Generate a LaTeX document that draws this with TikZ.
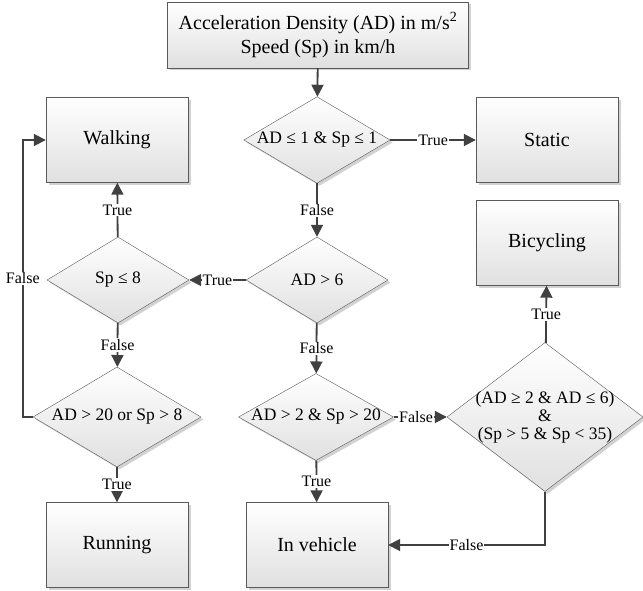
\documentclass[tikz,border=0pt]{standalone}
\usepackage{fontspec}
\setmainfont{Liberation Serif}
\usetikzlibrary{shapes.geometric,arrows.meta,shadows}
\definecolor{linegrey}{RGB}{64,64,64}
\definecolor{edgegrey}{RGB}{90,90,90}
\definecolor{fillgrey}{RGB}{224,224,224}
\definecolor{shadowgrey}{RGB}{210,210,210}

\begin{document}
\begin{tikzpicture}[x=1pt,y=-1pt,
    box/.style={rectangle, draw=edgegrey, top color=white, bottom color=fillgrey,
        minimum width=142pt, minimum height=85pt, inner sep=0pt, align=center,
        font=\fontsize{20}{24}\selectfont,
        drop shadow={shadow xshift=2.5pt, shadow yshift=-2.5pt, fill=shadowgrey, opacity=1}},
    decision/.style={diamond, draw=edgegrey, top color=white, bottom color=fillgrey,
        inner sep=0pt, align=center, font=\fontsize{17.5}{18}\selectfont,
        drop shadow={shadow xshift=2.5pt, shadow yshift=-2.5pt, fill=shadowgrey, opacity=1}},
    flow/.style={draw=linegrey, line width=1.8pt, -{Triangle[length=12pt,width=12pt]}},
    lbl/.style={fill=white, inner sep=1pt, font=\fontsize{16}{18}\selectfont}]
\useasboundingbox (0,0) rectangle (643,591);

% Input
\node[box, minimum width=301pt, minimum height=66pt] (input) at (318,35)
    {Acceleration Density (AD) in m/s\textsuperscript{2}\\Speed (Sp) in km/h};

% Decisions
\node[decision, minimum width=142pt, minimum height=84pt, shape aspect=1.69] (qstatic) at (317,140) {AD ≤ 1 \& Sp ≤ 1};
\node[decision, minimum width=142pt, minimum height=86pt, shape aspect=1.65] (qhigh) at (317,280) {AD > 6};
\node[decision, minimum width=142pt, minimum height=86pt, shape aspect=1.65] (qwalk) at (118,280) {Sp ≤ 8};
\node[decision, minimum width=168pt, minimum height=100pt, shape aspect=1.68] (qrun) at (117,417) {AD > 20 or Sp > 8};
\node[decision, minimum width=155pt, minimum height=87pt, shape aspect=1.78, inner sep=-4pt] (qvehicle) at (316,417) {AD > 2 \& Sp > 20};
\node[decision, minimum width=196pt, minimum height=149pt, shape aspect=1.32, inner sep=-10pt] (qbike) at (545,417)
    {(AD ≥ 2 \& AD ≤ 6)\\\&\\(Sp > 5 \& Sp < 35)};

% Activities
\node[box] (static) at (547,140) {Static};
\node[box] (bicycling) at (547,243) {Bicycling};
\node[box] (walking) at (117,140) {Walking};
\node[box] (running) at (117,545) {Running};
\node[box] (vehicle) at (317,545) {In vehicle};

% Connectors
\draw[flow] (input) -- (qstatic);
\draw[flow] (qstatic) -- node[lbl]{True} (static);
\draw[flow] (qstatic) -- node[lbl]{False} (qhigh);
\draw[flow] (qhigh) -- node[lbl]{True} (qwalk);
\draw[flow] (qwalk) -- node[lbl]{True} (walking);
\draw[flow] (qwalk) -- node[lbl]{False} (qrun);
\draw[flow] (qrun) -- node[lbl]{True} (running);
\draw[flow] (qrun.west) -- ++(-10,0) |- node[lbl, pos=0.25]{False} (walking.west);
\draw[flow] (qhigh) -- node[lbl]{False} (qvehicle);
\draw[flow] (qvehicle) -- node[lbl]{True} (vehicle);
\draw[flow] (qvehicle) -- node[lbl, pos=0.42]{False} (qbike);
\draw[flow] (qbike) -- node[lbl]{True} (bicycling);
\draw[flow] (qbike.south) |- node[lbl, pos=0.75]{False} (vehicle.east);
\end{tikzpicture}
\end{document}
